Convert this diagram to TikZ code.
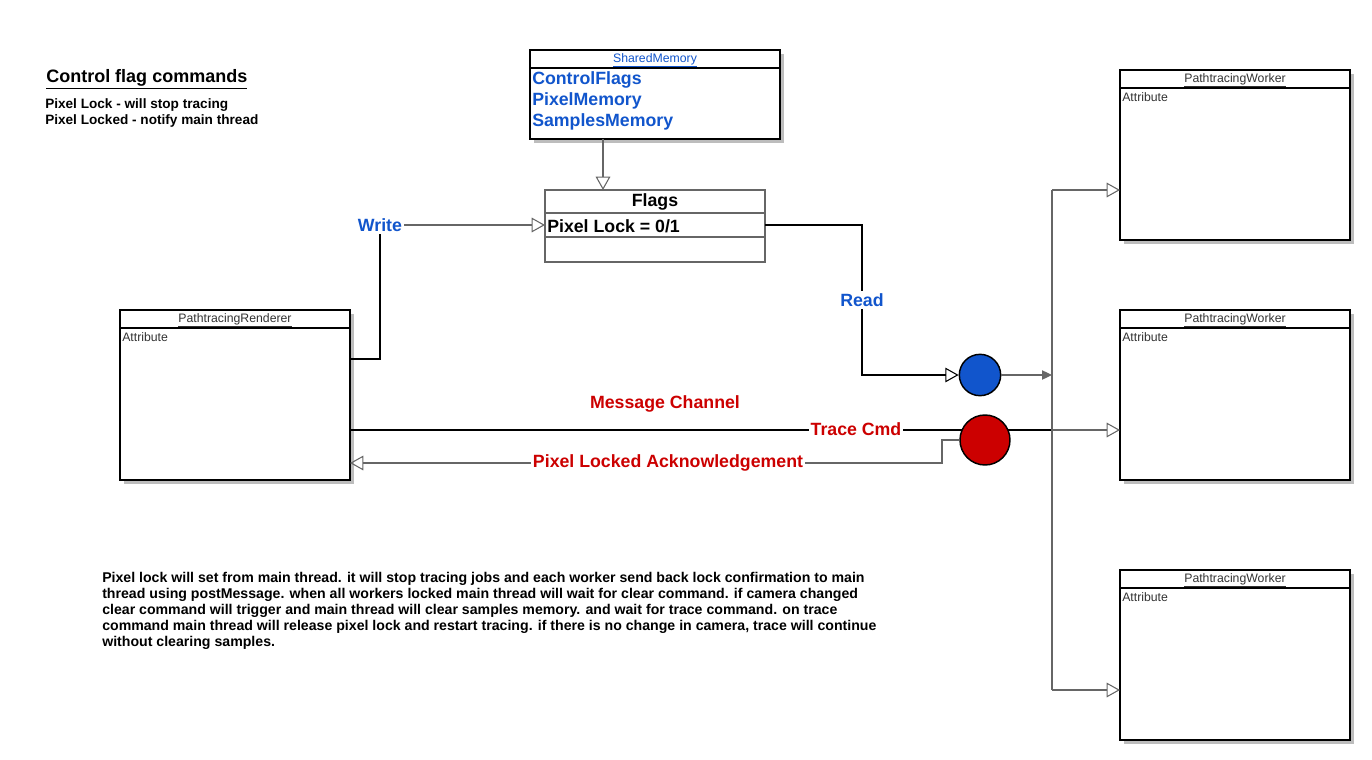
\documentclass[tikz,border=0pt]{standalone}
\usepackage{fontspec}
\setmainfont{Liberation Sans}
\usetikzlibrary{arrows.meta,calc}
\definecolor{myblue}{HTML}{1155CC}
\definecolor{myred}{HTML}{CC0000}
\definecolor{lgray}{HTML}{666666}
\definecolor{shgray}{HTML}{BDBDBD}
\definecolor{ttl}{HTML}{333333}
\begin{document}
\begin{tikzpicture}[x=0.75pt,y=-0.75pt,
  box/.style={draw=black, line width=1.5pt, fill=white, inner sep=0pt, outer sep=0pt, anchor=north west},
  fbox/.style={draw=lgray, line width=1.1pt, fill=white, inner sep=0pt, outer sep=0pt, anchor=north west},
  ttlstyle/.style={font=\fontsize{9.2pt}{11pt}\selectfont, text=ttl, inner sep=0pt},
  attr/.style={font=\fontsize{9.2pt}{11pt}\selectfont, text=ttl, inner sep=0pt, anchor=west},
  item/.style={font=\fontsize{13.3pt}{15pt}\selectfont\bfseries, text=myblue, inner sep=0pt, anchor=west},
  lbl/.style={font=\fontsize{13.3pt}{15pt}\selectfont\bfseries, inner sep=1.5pt},
  conn/.style={draw=lgray, line width=0.9pt},
  opentip/.style={-{Triangle[open, length=10pt, width=11pt, line width=0.8pt]}},
  filltip/.style={-{Triangle[length=7.5pt, width=7pt]}},
  dot/.style={circle, draw=black, line width=1.1pt, inner sep=0pt},
  small/.style={font=\fontsize{10.2pt}{12pt}\selectfont\bfseries, inner sep=0pt, anchor=west}
]
\useasboundingbox (0,0) rectangle (1372,760);

% ---------- legend ----------
\node[font=\fontsize{13.5pt}{15pt}\selectfont\bfseries, inner sep=0pt, anchor=west] (legt) at (46,79) {\underline{Control flag commands}};
\node[small] (leg1) at (45,105) {Pixel Lock - will stop tracing};
\node[small] (leg2) at (45,121) {Pixel Locked - notify main thread};

% ---------- SharedMemory ----------
\fill[shgray] (534,54) rectangle (784,143);
\node[box, minimum width=187.5pt, minimum height=66.75pt] (sm) at (530,50) {};
\draw[line width=1.5pt] (530,68) -- (780,68);
\node[ttlstyle, text=myblue] (smt) at (655,60.5) {\underline{SharedMemory}};
\node[item] (sm1) at (532,80) {ControlFlags};
\node[item] (sm2) at (532,101) {PixelMemory};
\node[item] (sm3) at (532,122) {SamplesMemory};

% ---------- Flags ----------
\node[fbox, minimum width=165pt, minimum height=54pt] (flags) at (545,190) {};
\draw[draw=lgray, line width=1.1pt] (545,213) -- (765,213);
\draw[draw=lgray, line width=1.1pt] (545,237) -- (765,237);
\node[lbl, text=black] (flt) at (655,202) {Flags};
\node[lbl, text=black, anchor=west, inner sep=0pt] (pl) at (547,226) {Pixel Lock = 0/1};

% ---------- Renderer ----------
\fill[shgray] (124,314) rectangle (354,484);
\node[box, minimum width=172.5pt, minimum height=127.5pt] (rend) at (120,310) {};
\draw[line width=1.5pt] (120,328) -- (350,328);
\node[ttlstyle] (rendt) at (235,320.5) {\underline{PathtracingRenderer}};
\node[attr] (renda) at (122,337) {Attribute};

% ---------- Workers ----------
\foreach \n/\y in {w1/70, w2/310, w3/570}{
  \fill[shgray] (1124,\y+4) rectangle (1354,\y+174);
  \node[box, minimum width=172.5pt, minimum height=127.5pt] (\n) at (1120,\y) {};
  \draw[line width=1.5pt] (1120,\y+18) -- (1350,\y+18);
  \node[ttlstyle] (\n t) at (1235,\y+10.5) {\underline{PathtracingWorker}};
  \node[attr] (\n a) at (1122,\y+27) {Attribute};
}

% ---------- coordinates ----------
\coordinate (smx) at (603,0);
\coordinate (wy) at (0,359);
\coordinate (ty) at (0,430);
\coordinate (ay) at (0,463);
\coordinate (akx) at (942,0);
\coordinate (bustop) at (1052,190);
\coordinate (busbot) at (1052,690);
\coordinate (busmid) at (1052,430);
\coordinate (busblue) at (1052,375);

% ---------- Message channel line (under the red dot) ----------
\node[lbl, text=myred] (mc) at (665,404) {Message Channel};
\draw[black, line width=1.2pt] (rend.east |- ty) -- (busmid);
\node[lbl, text=myred, fill=white] (tc) at (856,429) {Trace Cmd};

% ---------- circles ----------
\node[dot, fill=myblue, minimum size=31pt] (blue) at (980,375) {};
\node[dot, fill=myred, minimum size=37.5pt] (red) at (985,440) {};

% ---------- SharedMemory -> Flags ----------
\draw[conn, opentip] (sm.south -| smx) -- (flags.north -| smx);

% ---------- Write ----------
\node[lbl, text=myblue] (write) at (380,225) {Write};
\draw[black, line width=0.8pt] (rend.east |- wy) -| (write.south);
\draw[conn, opentip] (write.east) -- (flags.west |- write);

% ---------- Read ----------
\node[lbl, text=myblue] (read) at (862,300) {Read};
\draw[black, line width=0.8pt] (flags.east |- write) -| (read.north);
\draw[black, line width=0.8pt, opentip] (read.south) |- (blue.west);

% ---------- blue -> bus ----------
\draw[conn, filltip] (blue.east) -- (busblue);

% ---------- bus ----------
\draw[conn] (bustop) -- (busbot);
\draw[conn, opentip] (bustop) -- (w1.west |- bustop);
\draw[conn, opentip] (busmid) -- (w2.west |- busmid);
\draw[conn, opentip] (busbot) -- (w3.west |- busbot);

% ---------- Acknowledgement ----------
\draw[conn, opentip] (red.west) -| (akx |- ay) -- (rend.east |- ay);
\node[lbl, text=myred, fill=white] (ack) at (668,463) {Pixel Locked Acknowledgement};

% ---------- paragraph ----------
\node[font=\fontsize{10.6pt}{12pt}\selectfont\bfseries, inner sep=0pt, anchor=north west, align=left] (para) at (102,572) {Pixel lock will set from main thread. it will stop tracing jobs and each worker send back lock confirmation to main\\
thread using postMessage. when all workers locked main thread will wait for clear command. if camera changed\\
clear command will trigger and main thread will clear samples memory. and wait for trace command. on trace\\
command main thread will release pixel lock and restart tracing. if there is no change in camera, trace will continue\\
without clearing samples.};
\end{tikzpicture}
\end{document}
